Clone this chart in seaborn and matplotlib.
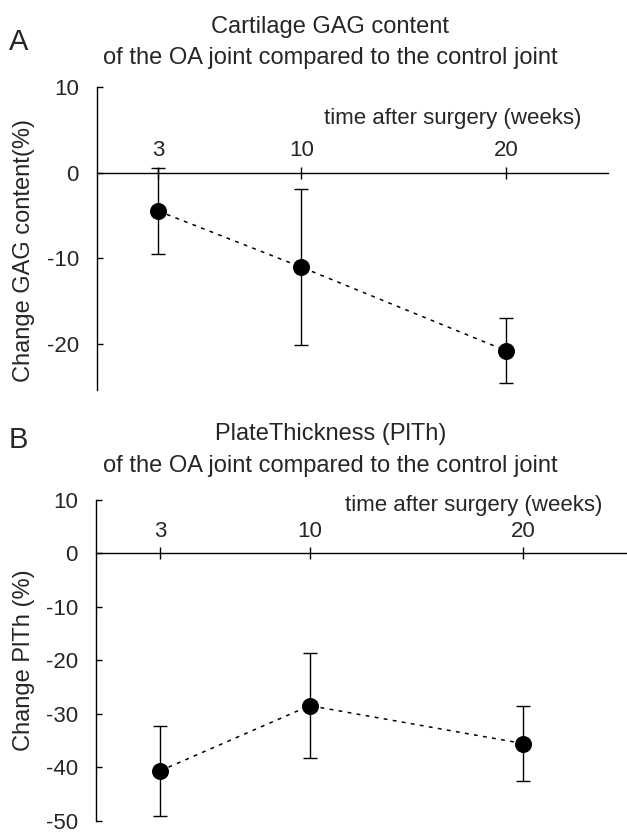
import matplotlib
matplotlib.use("Agg")
import matplotlib.pyplot as plt
import seaborn as sns
import pandas as pd

# ---- data ----
weeks = [3, 10, 20]
gag_mean = [-4.5, -11.05, -20.8]
gag_err = [5.0, 9.1, 3.8]
plth_mean = [-40.7, -28.5, -35.6]
plth_err = [8.4, 9.8, 7.0]

a_ticks = [10, 0, -10, -20]
b_ticks = [10, 0, -10, -20, -30, -40, -50]

sns.set_theme(style="white")
plt.rcParams["font.family"] = ["Liberation Sans", "DejaVu Sans"]
plt.rcParams["axes.unicode_minus"] = False

fig = plt.figure(figsize=(6.27, 8.36), dpi=100)
axA = fig.add_axes([0.1547, 0.5335, 0.8150, 0.3625])
axB = fig.add_axes([0.1531, 0.0185, 0.8469, 0.3835])


def draw(ax, mean, err, ylim, yticks, ylabel, ylab_xy, xlab_y, xlim):
    df = pd.DataFrame({"week": weeks, "val": mean})
    ax.errorbar(weeks, mean, yerr=err, fmt="none", ecolor="black",
                elinewidth=1.0, capsize=4.7, capthick=1.0, zorder=2)
    sns.lineplot(data=df, x="week", y="val", ax=ax, color="black",
                 linewidth=1.1, linestyle=(0, (2.5, 3.5)), zorder=3)
    sns.scatterplot(data=df, x="week", y="val", ax=ax, color="black",
                    s=150, edgecolor="black", linewidth=0, zorder=4)
    ax.set_xlim(*xlim)
    ax.set_ylim(*ylim)
    for s in ["bottom", "right"]:
        ax.spines[s].set_visible(False)
    ax.spines["top"].set_position(("data", 0))
    for s in ["top", "left"]:
        ax.spines[s].set_color("black")
        ax.spines[s].set_linewidth(1.0)
    ax.xaxis.set_ticks_position("top")
    ax.set_xticks(weeks)
    ax.set_xticklabels([str(w) for w in weeks])
    ax.tick_params(axis="x", direction="inout", length=9, width=1.0,
                   color="black", labelsize=16, pad=4,
                   top=True, bottom=False, labeltop=True, labelbottom=False)
    ax.set_yticks(yticks)
    ax.set_yticklabels([str(t) for t in yticks])
    ax.tick_params(axis="y", direction="in", length=4.5, width=1.0,
                   color="black", labelsize=16, pad=13, left=True)
    ax.set_xlabel("")
    ax.set_ylabel(ylabel, fontsize=17, va="center")
    ax.yaxis.set_label_coords(*ylab_xy)
    ax.text(23.7, xlab_y, "time after surgery (weeks)", ha="right",
            va="center", fontsize=16)
    ax.patch.set_alpha(0)


draw(axA, gag_mean, gag_err, (-25.4, 10), a_ticks,
     "Change GAG content(%)", (-0.143, 0.46), 6.3, (0, 25))
draw(axB, plth_mean, plth_err, (-50, 10), b_ticks,
     "Change PlTh (%)", (-0.136, 0.5), 9.0, (0, 24.85))

# titles and panel letters
fig.text(0.030, 1 - 42 / 836, "A", fontsize=21, ha="center", va="center")
fig.text(0.527, 1 - 27 / 836, "Cartilage GAG content", fontsize=17,
         ha="center", va="center")
fig.text(0.527, 1 - 58 / 836, "of the OA joint compared to the control joint",
         fontsize=17, ha="center", va="center")
fig.text(0.030, 1 - 440 / 836, "B", fontsize=21, ha="center", va="center")
fig.text(0.527, 1 - 434 / 836, "PlateThickness (PlTh)", fontsize=17,
         ha="center", va="center")
fig.text(0.527, 1 - 466 / 836, "of the OA joint compared to the control joint",
         fontsize=17, ha="center", va="center")

fig.savefig("out.png", dpi=100)
